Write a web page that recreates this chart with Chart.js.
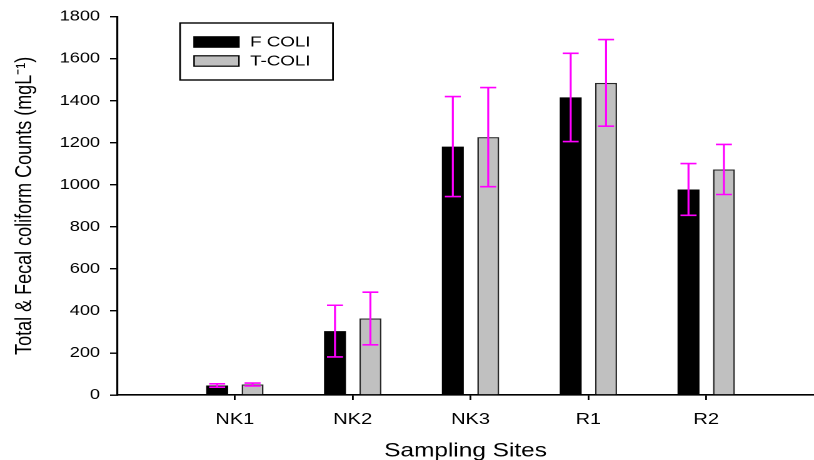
<!DOCTYPE html>
<html>
<head>
<meta charset="utf-8">
<script src="https://cdn.jsdelivr.net/npm/chart.js@4/dist/chart.umd.min.js"></script>
<style>
  html, body { margin: 0; padding: 0; background: #fff; overflow: hidden; }
  #wrap { width: 651px; height: 460px; transform: scaleX(1.25038); transform-origin: 0 0; }
</style>
</head>
<body>
<div id="wrap"><canvas id="c" width="651" height="460"></canvas></div>
<script>
const categories = ['NK1', 'NK2', 'NK3', 'R1', 'R2'];
const fColi = [45, 304, 1182, 1416, 978];
const tColi = [50, 364, 1227, 1485, 1073];
const fErr = [8, 123, 238, 210, 123];
const tErr = [7, 125, 236, 206, 119];
const yTicks = [0, 200, 400, 600, 800, 1000, 1200, 1400, 1600, 1800];

const errorBars = {
  id: 'errorBars',
  afterDatasetsDraw(chart) {
    const ctx = chart.ctx;
    const y = chart.scales.y;
    chart.data.datasets.forEach((ds, d) => {
      const meta = chart.getDatasetMeta(d);
      meta.data.forEach((bar, i) => {
        const v = ds.data[i].y, e = ds.errors[i];
        const yt = y.getPixelForValue(v + e), yb = y.getPixelForValue(v - e);
        ctx.save();
        ctx.strokeStyle = '#ff00ff';
        ctx.lineWidth = 1.6;
        ctx.beginPath();
        ctx.moveTo(bar.x, yt); ctx.lineTo(bar.x, yb);
        ctx.moveTo(bar.x - 6.4, yt); ctx.lineTo(bar.x + 6.4, yt);
        ctx.moveTo(bar.x - 6.4, yb); ctx.lineTo(bar.x + 6.4, yb);
        ctx.stroke();
        ctx.restore();
      });
    });
  }
};

const boxLegend = {
  id: 'boxLegend',
  afterDraw(chart) {
    const ctx = chart.ctx;
    ctx.save();
    ctx.strokeStyle = '#000';
    ctx.lineWidth = 1.4;
    ctx.strokeRect(144, 23, 122.3, 57);
    const rows = [42, 61];
    chart.data.datasets.forEach((ds, d) => {
      const cy = rows[d];
      ctx.fillStyle = ds.backgroundColor;
      ctx.fillRect(155.2, cy - 5.2, 35.9, 10.4);
      ctx.lineWidth = 1.2;
      ctx.strokeStyle = '#000';
      ctx.strokeRect(155.2, cy - 5.2, 35.9, 10.4);
      ctx.fillStyle = '#000';
      ctx.font = '15px "Liberation Sans", Arial, sans-serif';
      ctx.textBaseline = 'middle';
      ctx.textAlign = 'left';
      ctx.fillText(ds.label, 200, cy + 0.5);
    });
    ctx.restore();
  }
};

new Chart(document.getElementById('c'), {
  type: 'bar',
  data: {
    datasets: [
      {
        label: 'F COLI',
        data: fColi.map((v, i) => ({ x: i, y: v })),
        errors: fErr,
        backgroundColor: '#000000',
        borderColor: '#000000',
        borderWidth: 0
      },
      {
        label: 'T-COLI',
        data: tColi.map((v, i) => ({ x: i, y: v })),
        errors: tErr,
        backgroundColor: '#c0c0c0',
        borderColor: '#2a2a2a',
        borderWidth: 1.3
      }
    ]
  },
  options: {
    responsive: false,
    animation: false,
    devicePixelRatio: 2,
    categoryPercentage: 0.601,
    barPercentage: 0.62,
    layout: { padding: { top: 16, left: 0, right: 0, bottom: 0 } },
    plugins: { legend: { display: false }, tooltip: { enabled: false } },
    scales: {
      x: {
        type: 'linear',
        offset: false,
        min: -1,
        max: 4.915,
        afterBuildTicks: (s) => { s.ticks = categories.map((c, i) => ({ value: i })); },
        afterFit: (s) => { s.height = 65; },
        ticks: {
          autoSkip: false,
          maxRotation: 0,
          padding: 10,
          color: '#000',
          font: { family: '"Liberation Sans", Arial, sans-serif', size: 16 },
          callback: (v) => categories[v] !== undefined ? categories[v] : ''
        },
        grid: { offset: false, drawOnChartArea: false, drawTicks: true, tickLength: 5, color: '#000', lineWidth: 1.4 },
        border: { display: true, color: '#000', width: 1.6 },
        title: {
          display: true,
          text: 'Sampling Sites',
          color: '#000',
          font: { family: '"Liberation Sans", Arial, sans-serif', size: 19.5, lineHeight: 1 },
          padding: { top: 0, bottom: -1 }
        }
      },
      y: {
        min: 0,
        max: 1800,
        afterBuildTicks: (s) => { s.ticks = yTicks.map(v => ({ value: v })); },
        afterFit: (s) => { s.width = 93.6; },
        ticks: {
          padding: 8,
          color: '#000',
          font: { family: '"Liberation Sans", Arial, sans-serif', size: 14.5 },
          callback: (v) => String(v)
        },
        grid: { drawOnChartArea: false, drawTicks: true, tickLength: 5.6, color: '#000', lineWidth: 1.4 },
        border: { display: true, color: '#000', width: 1.6 },
        title: {
          display: true,
          text: 'Total & Fecal coliform Counts (mgL⁻¹)',
          color: '#000',
          font: { family: '"Liberation Sans", Arial, sans-serif', size: 18 },
          padding: { top: 9.2, bottom: 0 }
        }
      }
    }
  },
  plugins: [errorBars, boxLegend]
});
</script>
</body>
</html>
